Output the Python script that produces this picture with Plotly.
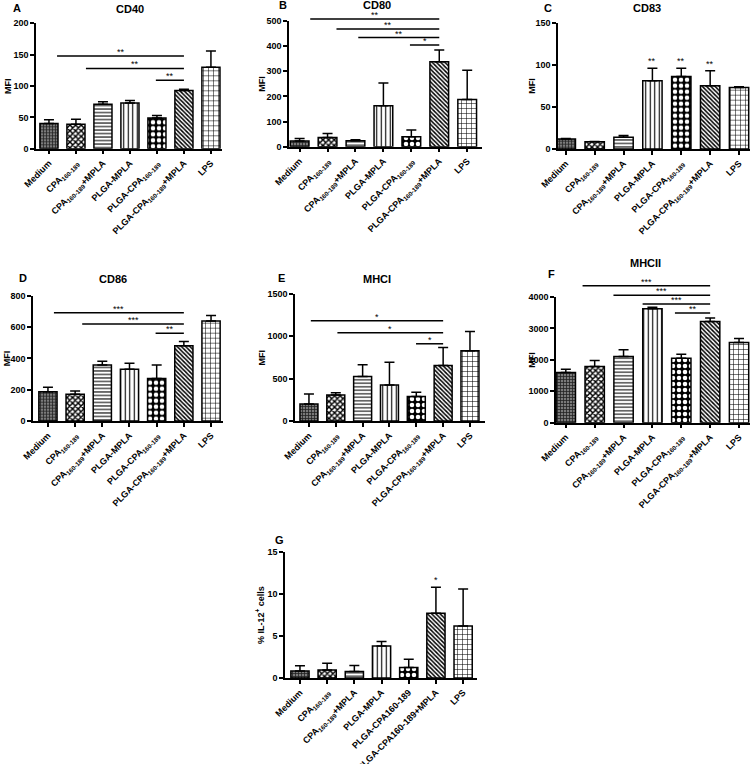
import plotly.graph_objects as go

# ---------------- data ----------------
categories = ["Medium", "CPA<sub>160-189</sub>", "CPA<sub>160-189</sub>+MPLA", "PLGA-MPLA",
              "PLGA-CPA<sub>160-189</sub>", "PLGA-CPA<sub>160-189</sub>+MPLA", "LPS"]
categories_g = ["Medium", "CPA<sub>160-189</sub>", "CPA<sub>160-189</sub>+MPLA", "PLGA-MPLA",
                "PLGA-CPA160-189", "PLGA-CPA160-189+MPLA", "LPS"]

cd40_mean = [40, 39, 71, 73, 49, 93, 130]
cd40_upper = [46, 47, 75, 77, 53, 95, 156]
cd80_mean = [23, 37, 24, 163, 40, 338, 188]
cd80_upper = [33, 53, 28, 253, 66, 385, 304]
cd83_mean = [12, 8.5, 14, 81, 86, 75, 73]
cd83_upper = [12.5, 9, 16, 96, 96, 93, 74]
cd86_mean = [187, 170, 357, 330, 272, 480, 638]
cd86_upper = [215, 191, 381, 368, 357, 508, 674]
mhci_mean = [201, 308, 525, 426, 288, 655, 829]
mhci_upper = [320, 335, 663, 695, 340, 869, 1058]
mhcii_mean = [1596, 1787, 2106, 3628, 2053, 3223, 2553]
mhcii_upper = [1702, 1979, 2319, 3670, 2181, 3330, 2681]
il12_mean = [0.84, 0.96, 0.76, 3.8, 1.24, 7.7, 6.2]
il12_upper = [1.45, 1.75, 1.5, 4.35, 2.23, 10.8, 10.6]

# comparisons: (from position, to position, bracket level, label)
cd40_comparisons = [(0.3, 5, 148, "**"), (1.37, 5, 128, "**"), (3.96, 5, 109, "**")]
cd80_comparisons = [(0.38, 5, 508, "**"), (1.32, 5, 468, "**"), (2.1, 5, 434, "**"), (3.95, 5, 405, "*")]
cd86_comparisons = [(0.22, 5, 691, "***"), (1.26, 5, 619, "***"), (3.96, 5, 560, "**")]
mhci_comparisons = [(0.07, 5, 1184, "*"), (1.06, 5, 1042, "*"), (3.99, 5, 912, "*")]
mhcii_comparisons = [(0.58, 5, 4362, "***"), (1.65, 5, 4053, "***"), (2.66, 5, 3777, "***"), (3.78, 5, 3489, "**")]
cd83_stars = ["", "", "", "**", "**", "**", ""]
il12_stars = ["", "", "", "", "", "*", ""]

# ---------------- styles ----------------
patterns = [
    dict(shape="+", fgcolor="#222222", bgcolor="#7a7a7a", size=3, solidity=0.45),
    dict(shape="x", fgcolor="#000000", bgcolor="#ffffff", size=4, solidity=0.6),
    dict(shape="-", fgcolor="#000000", bgcolor="#ffffff", size=3.5, solidity=0.3),
    dict(shape="|", fgcolor="#000000", bgcolor="#ffffff", size=4.5, solidity=0.25),
    dict(shape=".", fgcolor="#ffffff", bgcolor="#000000", size=6, solidity=0.45),
    dict(shape="\\", fgcolor="#000000", bgcolor="#ffffff", size=3, solidity=0.5),
    dict(shape="+", fgcolor="#000000", bgcolor="#ffffff", size=5, solidity=0.2),
]

FONT = "Liberation Sans"
W, H = 750, 764

def px(x):
    return x / W

def py(y):
    return 1 - y / H

panels = [
    dict(cats=categories, mean=cd40_mean, upper=cd40_upper, ymax=200, ytop=200, dtick=50, ytitle="MFI",
         title="CD40", letter="A", comps=cd40_comparisons, stars=None,
         xd=(36, 222), yd=(23.3, 148.7), xr=(-0.48, 6.41), tpos=(130, 9), lpos=(17, 8), ytx=8),
    dict(cats=categories, mean=cd80_mean, upper=cd80_upper, ymax=500, ytop=535, dtick=100, ytitle="MFI",
         title="CD80", letter="B", comps=cd80_comparisons, stars=None,
         xd=(289, 482), yd=(21, 146.7), xr=(-0.38, 6.53), tpos=(377, 5), lpos=(283, 5), ytx=262),
    dict(cats=categories, mean=cd83_mean, upper=cd83_upper, ymax=150, ytop=150, dtick=50, ytitle="MFI",
         title="CD83", letter="C", comps=[], stars=cd83_stars,
         xd=(558, 750), yd=(22.7, 149), xr=(-0.27, 6.38), tpos=(647, 8), lpos=(548, 8), ytx=532),
    dict(cats=categories, mean=cd86_mean, upper=cd86_upper, ymax=800, ytop=800, dtick=200, ytitle="MFI",
         title="CD86", letter="D", comps=cd86_comparisons, stars=None,
         xd=(33, 223), yd=(295.7, 421), xr=(-0.55, 6.44), tpos=(113, 279), lpos=(23, 278), ytx=7),
    dict(cats=categories, mean=mhci_mean, upper=mhci_upper, ymax=1500, ytop=1500, dtick=500, ytitle="MFI",
         title="MHCI", letter="E", comps=mhci_comparisons, stars=None,
         xd=(295, 485), yd=(294, 421), xr=(-0.52, 6.56), tpos=(377, 279), lpos=(281, 278), ytx=262),
    dict(cats=categories, mean=mhcii_mean, upper=mhcii_upper, ymax=4000, ytop=4500, dtick=1000, ytitle="MFI",
         title="MHCII", letter="F", comps=mhcii_comparisons, stars=None,
         xd=(556, 750), yd=(297, 422.7), xr=(-0.34, 6.38), tpos=(645, 263), lpos=(551, 274), ytx=532),
    dict(cats=categories_g, mean=il12_mean, upper=il12_upper, ymax=15, ytop=15, dtick=5,
         ytitle="% IL-12<sup>+</sup> cells",
         title="", letter="G", comps=[], stars=il12_stars,
         xd=(285, 477), yd=(552, 678), xr=(-0.55, 6.51), tpos=None, lpos=(279, 540), ytx=260),
]

fig = go.Figure()
annotations = []
shapes = []
layout_axes = {}
NP = len(panels)

for i, p in enumerate(panels):
    n = i + 1
    xa = "x" if n == 1 else f"x{n}"
    ya = "y" if n == 1 else f"y{n}"
    err_plus = [u - m for m, u in zip(p["mean"], p["upper"])]
    fig.add_trace(go.Bar(
        x=p["cats"], y=p["mean"], xaxis=xa, yaxis=ya, width=0.67,
        marker=dict(color="white", line=dict(color="black", width=1.5),
                    pattern=dict(shape=[pt["shape"] for pt in patterns],
                                 fgcolor=[pt["fgcolor"] for pt in patterns],
                                 bgcolor=[pt["bgcolor"] for pt in patterns],
                                 size=[pt["size"] for pt in patterns],
                                 solidity=[pt["solidity"] for pt in patterns],
                                 fillmode="replace")),
        error_y=dict(type="data", symmetric=False, array=err_plus, arrayminus=[0] * 7,
                     color="black", thickness=1.5, width=5),
        showlegend=False, hoverinfo="skip",
    ))
    y0px, ympx = p["yd"][1], p["yd"][0]
    layout_axes[("xaxis" if n == 1 else f"xaxis{n}")] = dict(
        domain=[px(p["xd"][0]), px(p["xd"][1])], anchor=ya, type="category",
        range=list(p["xr"]), showline=True, linecolor="black", linewidth=1.5,
        ticks="outside", ticklen=4, tickwidth=1.5, tickcolor="black", tickangle=-45,
        tickfont=dict(family=FONT, size=9, color="black", weight="bold"),
        showgrid=False, zeroline=False, fixedrange=True, automargin=False,
    )
    layout_axes[("yaxis" if n == 1 else f"yaxis{n}")] = dict(
        domain=[py(y0px), py(ympx)], anchor=xa,
        range=[0, p["ymax"]], dtick=p["dtick"], tick0=0, showline=True, linecolor="black",
        linewidth=1.5, ticks="outside", ticklen=4, tickwidth=1.5, tickcolor="black",
        tickfont=dict(family=FONT, size=9, color="black", weight="bold"),
        showgrid=False, zeroline=False, fixedrange=True, automargin=False,
    )
    # comparison brackets on an invisible companion axis with the same scale
    if p["comps"]:
        bn = NP + n
        yb = f"y{bn}"
        top_px = y0px - (y0px - ympx) * p["ytop"] / p["ymax"]
        layout_axes[f"yaxis{bn}"] = dict(
            domain=[py(y0px), py(top_px)], anchor=xa, range=[0, p["ytop"]],
            visible=False, showgrid=False, zeroline=False, fixedrange=True, automargin=False,
        )
        fig.add_trace(go.Scatter(x=[p["cats"][0]], y=[0], xaxis=xa, yaxis=yb, mode="markers",
                                 marker=dict(size=1, opacity=0), showlegend=False, hoverinfo="skip"))
        for (s, e, lvl, lab) in p["comps"]:
            shapes.append(dict(type="line", xref=xa, yref=yb, x0=s, x1=e, y0=lvl, y1=lvl,
                               line=dict(color="black", width=1.5)))
            annotations.append(dict(x=(s + e) / 2, y=lvl, xref=xa, yref=yb, text=lab, showarrow=False,
                                    xanchor="center", yanchor="bottom", yshift=-3,
                                    font=dict(family=FONT, size=9, color="black")))
    if p["stars"]:
        for j, st in enumerate(p["stars"]):
            if st:
                annotations.append(dict(x=j, y=p["upper"][j], xref=xa, yref=ya, text=st,
                                        showarrow=False, xanchor="center", yanchor="bottom", yshift=0,
                                        font=dict(family=FONT, size=9, color="black")))
    if p["title"]:
        annotations.append(dict(x=px(p["tpos"][0]), y=py(p["tpos"][1]), xref="paper", yref="paper",
                                xanchor="center", yanchor="middle",
                                text="<b>%s</b>" % p["title"], showarrow=False,
                                font=dict(family=FONT, size=11, color="black")))
    annotations.append(dict(x=px(p["lpos"][0]), y=py(p["lpos"][1]), xref="paper", yref="paper",
                            xanchor="center", yanchor="middle",
                            text="<b>%s</b>" % p["letter"], showarrow=False,
                            font=dict(family=FONT, size=11, color="black")))
    annotations.append(dict(x=px(p["ytx"]), y=py((p["yd"][0] + p["yd"][1]) / 2), xref="paper",
                            yref="paper", xanchor="center", yanchor="middle",
                            text="<b>%s</b>" % p["ytitle"], showarrow=False,
                            textangle=-90, font=dict(family=FONT, size=9, color="black")))

fig.update_layout(
    width=W, height=H, margin=dict(l=0, r=0, t=0, b=0, autoexpand=False),
    paper_bgcolor="white", plot_bgcolor="rgba(0,0,0,0)", annotations=annotations, shapes=shapes,
    **layout_axes,
)

fig.write_html("out.html", config={"displayModeBar": False},
               post_script="document.body.style.margin='0px';")
